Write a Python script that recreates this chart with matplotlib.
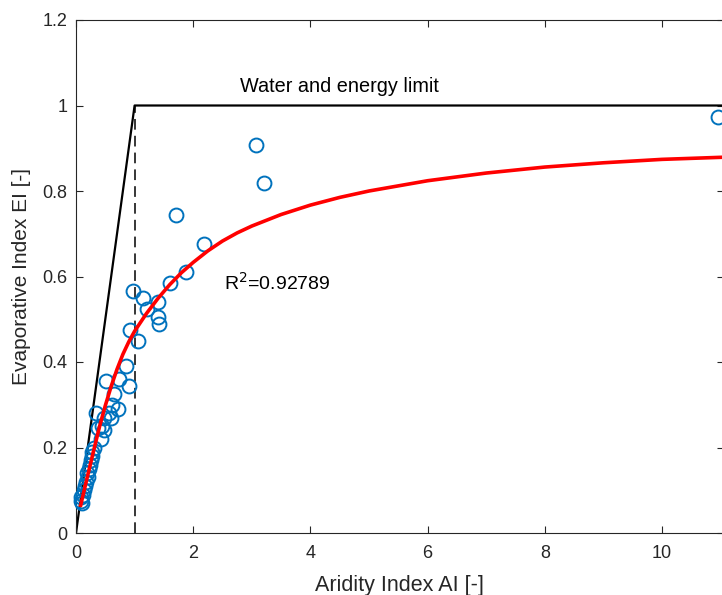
import matplotlib
matplotlib.use("Agg")
import matplotlib.pyplot as plt

plt.rcParams['font.family'] = ['Liberation Sans', 'DejaVu Sans']

# Observed points (Aridity Index, Evaporative Index)
ai_obs = [0.08, 0.09, 0.10, 0.12, 0.14, 0.15, 0.17, 0.19, 0.20, 0.22, 0.24, 0.25,
          0.27, 0.28, 0.30, 0.34, 0.37, 0.42, 0.45, 0.48, 0.48, 0.52, 0.56, 0.60,
          0.62, 0.65, 0.71, 0.73, 0.85, 0.90, 0.93, 0.98, 1.06, 1.15, 1.22, 1.40,
          1.40, 1.41, 1.61, 1.71, 1.88, 2.19, 3.07, 3.20, 10.95]
ei_obs = [0.075, 0.085, 0.07, 0.09, 0.10, 0.11, 0.12, 0.14, 0.13, 0.15, 0.16, 0.17,
          0.18, 0.19, 0.20, 0.28, 0.245, 0.22, 0.25, 0.24, 0.27, 0.355, 0.28, 0.27,
          0.30, 0.325, 0.29, 0.36, 0.39, 0.345, 0.475, 0.565, 0.45, 0.55, 0.525, 0.54,
          0.505, 0.49, 0.585, 0.745, 0.61, 0.675, 0.907, 0.818, 0.974]

# Fitted curve
ai_fit = [0.08, 0.2, 0.3, 0.4, 0.5, 0.6, 0.7, 0.8, 0.9, 1.0, 1.2, 1.4, 1.6, 1.8,
          2.0, 2.25, 2.5, 2.75, 3.0, 3.5, 4.0, 4.5, 5.0, 6.0, 7.0, 8.0, 9.0, 10.0,
          11.05]
ei_fit = [0.065, 0.135, 0.192, 0.248, 0.298, 0.343, 0.383, 0.418, 0.447, 0.472,
          0.513, 0.549, 0.581, 0.609, 0.633, 0.660, 0.683, 0.702, 0.718, 0.745,
          0.767, 0.785, 0.800, 0.824, 0.842, 0.856, 0.866, 0.874, 0.879]

# Water and energy limit
ai_lim = [0, 1, 11.05]
ei_lim = [0, 1, 1]

r2_text = "R$^2$=0.92789"
limit_text = "Water and energy limit"

fig = plt.figure(figsize=(7.22, 5.95), dpi=100)
xmax = 11.05
px_per_unit = 58.6
ax = fig.add_axes([76/722, 62/595, xmax*px_per_unit/722, 513/595])

ax.plot(ai_lim, ei_lim, color='black', lw=1.6, zorder=2)
ax.plot([1, 1], [0, 1], color='black', lw=1.1, ls=(0, (7, 4)), zorder=2)
ax.plot(ai_obs, ei_obs, ls='none', marker='o', mfc='none', mec='#0072BD',
        ms=10, mew=1.4, zorder=3, clip_on=False)
ax.plot(ai_fit, ei_fit, color='red', lw=2.6, zorder=4, solid_joinstyle='round')

ax.text(2.8, 1.045, limit_text, fontsize=14.3, va='center', ha='left', color='black')
ax.text(2.52, 0.584, r2_text, fontsize=14, va='center', ha='left', color='black')

ax.set_xlim(0, xmax)
ax.set_ylim(0, 1.2)
ax.set_xticks([0, 2, 4, 6, 8, 10])
ax.set_yticks([0, 0.2, 0.4, 0.6, 0.8, 1.0, 1.2])
ax.set_yticklabels(['0', '0.2', '0.4', '0.6', '0.8', '1', '1.2'])
ax.tick_params(direction='in', top=True, right=True, length=5, width=0.8,
               labelsize=13, colors='#262626', pad=6)
ax.tick_params(axis='x', pad=9)
for s in ax.spines.values():
    s.set_color('#262626')
    s.set_linewidth(0.8)

ax.set_xlabel("Aridity Index AI [-]", fontsize=15.5, color='#262626', labelpad=9)
ax.set_ylabel("Evaporative Index EI [-]", fontsize=15, color='#262626', labelpad=8)

fig.savefig("out.png", dpi=100)
